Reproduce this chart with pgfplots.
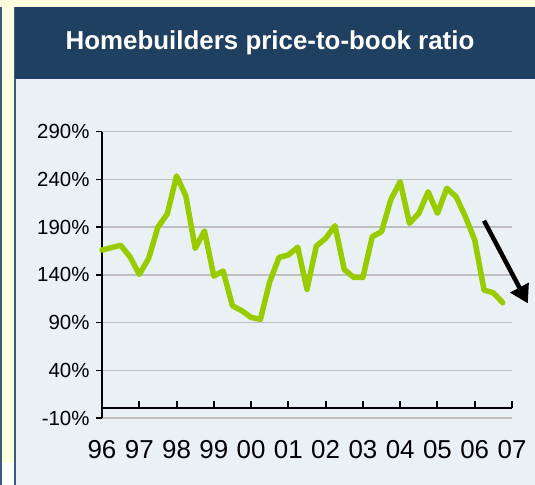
\documentclass[border=0pt]{standalone}
\usepackage{fontspec}
\setmainfont{Liberation Sans}
\usepackage{pgfplots}
\usepackage{pgfplotstable}
\pgfplotsset{compat=1.18}
\usetikzlibrary{arrows.meta}
\definecolor{ybg}{RGB}{255,255,224}
\definecolor{navy}{RGB}{31,64,96}
\definecolor{panel}{RGB}{233,241,245}
\definecolor{lgreen}{RGB}{153,204,0}
\definecolor{gridc}{RGB}{191,191,191}
\definecolor{edge}{RGB}{60,90,125}

\pgfplotstableread{
q v
0 166
1 168.5
2 171
3 159
4 140.5
5 157
6 190
7 203.7
8 243.6
9 222.6
10 167.8
11 186
12 138.7
13 144
14 107.6
15 102.4
16 95.4
17 93.4
18 132.8
19 158.3
20 160.8
21 169
22 124.8
23 170.2
24 178.2
25 191.5
26 145.7
27 137.4
28 137.4
29 180
30 185.2
31 219
32 237.6
33 194
34 204.5
35 227
36 204.5
37 230.6
38 221.9
39 200.9
40 176.5
41 124
42 121.2
43 110.8
}\ptb

\begin{document}
\begin{tikzpicture}[x=1bp,y=1bp]
\useasboundingbox (0,0) rectangle (535,485);
\fill[ybg] (0,0) rectangle (535,485);
\fill[white] (1.5,0) rectangle (13.5,22);
\fill[edge] (0,0) rectangle (1.5,478);
\fill[edge] (13.5,0) rectangle (15.5,478);
\fill[panel] (15.5,0) rectangle (535,406);
\fill[navy] (15,406) rectangle (535,478);
\node[text=white, font=\fontsize{26}{26}\selectfont\bfseries] at (270,442) {Homebuilders price-to-book ratio};
\begin{axis}[
  at={(102bp,67bp)}, anchor=south west,
  scale only axis, width=410bp, height=286.3bp,
  xmin=0, xmax=44, ymin=-10, ymax=290,
  axis x line*=bottom, axis y line*=left,
  x axis line style={draw=none},
  y axis line style={black, line width=1.8bp},
  xtick style={draw=none},
  ytick style={black, line width=1.5bp},
  tick align=outside,
  major tick length=6bp,
  ymajorgrids, grid style={gridc, line width=1.5bp},
  ytick={-10,40,90,140,190,240,290},
  yticklabels={-10\%,40\%,90\%,140\%,190\%,240\%,290\%},
  xtick={0,4,8,12,16,20,24,28,32,36,40,44},
  xticklabels={96,97,98,99,00,01,02,03,04,05,06,07},
  yticklabel style={font=\fontsize{20.5}{20.5}\selectfont, xshift=-3bp},
  xticklabel style={font=\fontsize{26}{26}\selectfont, yshift=-13bp},
  clip=false,
]
\addplot[lgreen, line width=5.5bp, line join=round, line cap=round] table[x=q,y=v]{\ptb};
\draw[black, line width=2bp] (axis cs:0,0) -- (axis cs:44,0);
\pgfplotsinvokeforeach{0,4,8,12,16,20,24,28,32,36,40,44}{
  \draw[black, line width=2bp] (axis cs:#1,0) -- ([yshift=7bp]axis cs:#1,0);
}
\draw[black, line width=4.5bp, -{Triangle[length=18bp,width=20bp]}] (axis cs:41,196.7) -- (axis cs:45.7,110);
\end{axis}
\end{tikzpicture}
\end{document}
